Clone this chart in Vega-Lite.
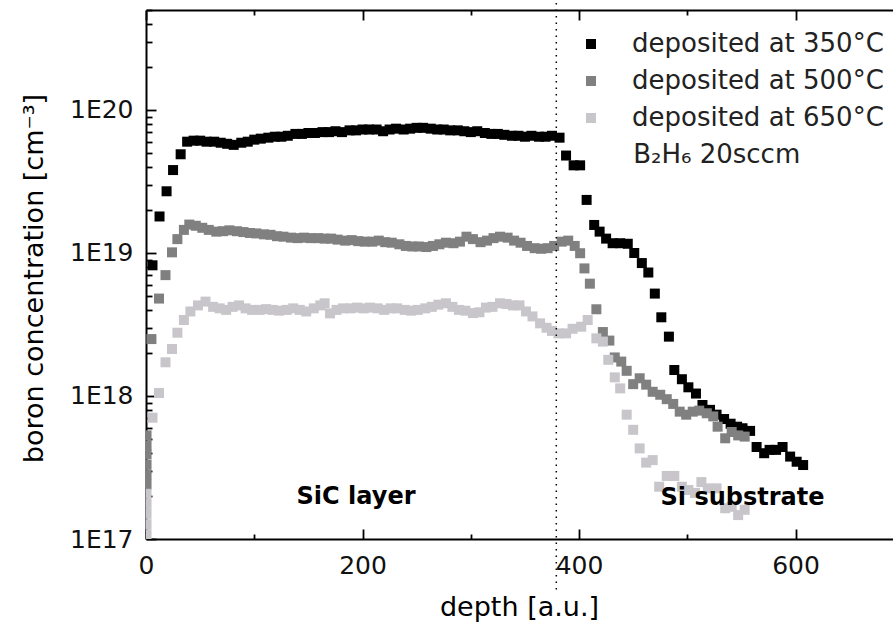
{
  "$schema": "https://vega.github.io/schema/vega-lite/v6.json",
  "width": 747,
  "height": 529,
  "autosize": {"type": "none"},
  "padding": {"left": 146, "top": 10, "right": 0, "bottom": 92},
  "background": "white",
  "config": {"view": {"stroke": null}, "font": "DejaVu Sans"},
  "datasets": {
    "pts": [
      {"series": "deposited at 350°C", "depth": 6, "conc": 8.2e18},
      {"series": "deposited at 350°C", "depth": 12.5, "conc": 1.8e19},
      {"series": "deposited at 350°C", "depth": 19, "conc": 2.7e19},
      {"series": "deposited at 350°C", "depth": 25, "conc": 3.8e19},
      {"series": "deposited at 350°C", "depth": 32, "conc": 4.9e19},
      {"series": "deposited at 350°C", "depth": 38, "conc": 6.0e19},
      {"series": "deposited at 350°C", "depth": 44, "conc": 6.1e19},
      {"series": "deposited at 350°C", "depth": 50, "conc": 6.1e19},
      {"series": "deposited at 350°C", "depth": 56, "conc": 6.0e19},
      {"series": "deposited at 350°C", "depth": 63, "conc": 6.0e19},
      {"series": "deposited at 350°C", "depth": 69, "conc": 5.9e19},
      {"series": "deposited at 350°C", "depth": 75, "conc": 5.8e19},
      {"series": "deposited at 350°C", "depth": 81, "conc": 5.7e19},
      {"series": "deposited at 350°C", "depth": 88, "conc": 5.9e19},
      {"series": "deposited at 350°C", "depth": 94, "conc": 6.0e19},
      {"series": "deposited at 350°C", "depth": 100, "conc": 6.2e19},
      {"series": "deposited at 350°C", "depth": 106, "conc": 6.3e19},
      {"series": "deposited at 350°C", "depth": 113, "conc": 6.4e19},
      {"series": "deposited at 350°C", "depth": 119, "conc": 6.5e19},
      {"series": "deposited at 350°C", "depth": 125, "conc": 6.5e19},
      {"series": "deposited at 350°C", "depth": 131, "conc": 6.6e19},
      {"series": "deposited at 350°C", "depth": 138, "conc": 6.8e19},
      {"series": "deposited at 350°C", "depth": 144, "conc": 6.8e19},
      {"series": "deposited at 350°C", "depth": 150, "conc": 6.9e19},
      {"series": "deposited at 350°C", "depth": 156, "conc": 6.9e19},
      {"series": "deposited at 350°C", "depth": 163, "conc": 7.0e19},
      {"series": "deposited at 350°C", "depth": 169, "conc": 7.0e19},
      {"series": "deposited at 350°C", "depth": 175, "conc": 7.1e19},
      {"series": "deposited at 350°C", "depth": 181, "conc": 7.0e19},
      {"series": "deposited at 350°C", "depth": 188, "conc": 7.2e19},
      {"series": "deposited at 350°C", "depth": 194, "conc": 7.2e19},
      {"series": "deposited at 350°C", "depth": 200, "conc": 7.3e19},
      {"series": "deposited at 350°C", "depth": 206, "conc": 7.3e19},
      {"series": "deposited at 350°C", "depth": 213, "conc": 7.3e19},
      {"series": "deposited at 350°C", "depth": 219, "conc": 7.1e19},
      {"series": "deposited at 350°C", "depth": 225, "conc": 7.3e19},
      {"series": "deposited at 350°C", "depth": 231, "conc": 7.4e19},
      {"series": "deposited at 350°C", "depth": 238, "conc": 7.3e19},
      {"series": "deposited at 350°C", "depth": 244, "conc": 7.4e19},
      {"series": "deposited at 350°C", "depth": 250, "conc": 7.5e19},
      {"series": "deposited at 350°C", "depth": 256, "conc": 7.5e19},
      {"series": "deposited at 350°C", "depth": 263, "conc": 7.4e19},
      {"series": "deposited at 350°C", "depth": 269, "conc": 7.3e19},
      {"series": "deposited at 350°C", "depth": 275, "conc": 7.3e19},
      {"series": "deposited at 350°C", "depth": 281, "conc": 7.2e19},
      {"series": "deposited at 350°C", "depth": 288, "conc": 7.2e19},
      {"series": "deposited at 350°C", "depth": 294, "conc": 7.1e19},
      {"series": "deposited at 350°C", "depth": 300, "conc": 7.0e19},
      {"series": "deposited at 350°C", "depth": 306, "conc": 7.1e19},
      {"series": "deposited at 350°C", "depth": 313, "conc": 6.9e19},
      {"series": "deposited at 350°C", "depth": 319, "conc": 6.8e19},
      {"series": "deposited at 350°C", "depth": 325, "conc": 6.8e19},
      {"series": "deposited at 350°C", "depth": 331, "conc": 6.7e19},
      {"series": "deposited at 350°C", "depth": 338, "conc": 6.6e19},
      {"series": "deposited at 350°C", "depth": 344, "conc": 6.6e19},
      {"series": "deposited at 350°C", "depth": 350, "conc": 6.5e19},
      {"series": "deposited at 350°C", "depth": 356, "conc": 6.6e19},
      {"series": "deposited at 350°C", "depth": 363, "conc": 6.5e19},
      {"series": "deposited at 350°C", "depth": 369, "conc": 6.5e19},
      {"series": "deposited at 350°C", "depth": 375, "conc": 6.6e19},
      {"series": "deposited at 350°C", "depth": 382, "conc": 6.4e19},
      {"series": "deposited at 350°C", "depth": 388, "conc": 4.8e19},
      {"series": "deposited at 350°C", "depth": 395, "conc": 4.1e19},
      {"series": "deposited at 350°C", "depth": 401, "conc": 4.1e19},
      {"series": "deposited at 350°C", "depth": 407, "conc": 2.35e19},
      {"series": "deposited at 350°C", "depth": 414, "conc": 1.57e19},
      {"series": "deposited at 350°C", "depth": 419, "conc": 1.41e19},
      {"series": "deposited at 350°C", "depth": 425, "conc": 1.26e19},
      {"series": "deposited at 350°C", "depth": 431, "conc": 1.17e19},
      {"series": "deposited at 350°C", "depth": 438, "conc": 1.17e19},
      {"series": "deposited at 350°C", "depth": 445, "conc": 1.16e19},
      {"series": "deposited at 350°C", "depth": 451, "conc": 1.0e19},
      {"series": "deposited at 350°C", "depth": 458, "conc": 8.5e18},
      {"series": "deposited at 350°C", "depth": 464, "conc": 7.3e18},
      {"series": "deposited at 350°C", "depth": 470, "conc": 5.2e18},
      {"series": "deposited at 350°C", "depth": 476, "conc": 3.55e18},
      {"series": "deposited at 350°C", "depth": 483, "conc": 2.6e18},
      {"series": "deposited at 350°C", "depth": 488, "conc": 1.52e18},
      {"series": "deposited at 350°C", "depth": 495, "conc": 1.31e18},
      {"series": "deposited at 350°C", "depth": 501, "conc": 1.15e18},
      {"series": "deposited at 350°C", "depth": 508, "conc": 1.04e18},
      {"series": "deposited at 350°C", "depth": 514, "conc": 8.65e17},
      {"series": "deposited at 350°C", "depth": 521, "conc": 8.0e17},
      {"series": "deposited at 350°C", "depth": 527, "conc": 7.4e17},
      {"series": "deposited at 350°C", "depth": 534, "conc": 6.9e17},
      {"series": "deposited at 350°C", "depth": 540, "conc": 6.4e17},
      {"series": "deposited at 350°C", "depth": 546, "conc": 6.1e17},
      {"series": "deposited at 350°C", "depth": 551, "conc": 5.95e17},
      {"series": "deposited at 350°C", "depth": 558, "conc": 5.7e17},
      {"series": "deposited at 350°C", "depth": 564, "conc": 4.4e17},
      {"series": "deposited at 350°C", "depth": 571, "conc": 3.98e17},
      {"series": "deposited at 350°C", "depth": 576, "conc": 4.2e17},
      {"series": "deposited at 350°C", "depth": 582, "conc": 4.2e17},
      {"series": "deposited at 350°C", "depth": 588, "conc": 4.4e17},
      {"series": "deposited at 350°C", "depth": 595, "conc": 3.77e17},
      {"series": "deposited at 350°C", "depth": 601, "conc": 3.47e17},
      {"series": "deposited at 350°C", "depth": 607, "conc": 3.29e17},

      {"series": "deposited at 500°C", "depth": 0.5, "conc": 5.3e17},
      {"series": "deposited at 500°C", "depth": 0.5, "conc": 4.5e17},
      {"series": "deposited at 500°C", "depth": 0.5, "conc": 3.9e17},
      {"series": "deposited at 500°C", "depth": 0.5, "conc": 3.3e17},
      {"series": "deposited at 500°C", "depth": 0.5, "conc": 2.8e17},
      {"series": "deposited at 500°C", "depth": 0.5, "conc": 2.4e17},
      {"series": "deposited at 500°C", "depth": 5, "conc": 2.5e18},
      {"series": "deposited at 500°C", "depth": 12, "conc": 4.8e18},
      {"series": "deposited at 500°C", "depth": 18, "conc": 7.0e18},
      {"series": "deposited at 500°C", "depth": 24, "conc": 1.01e19},
      {"series": "deposited at 500°C", "depth": 29, "conc": 1.25e19},
      {"series": "deposited at 500°C", "depth": 35, "conc": 1.45e19},
      {"series": "deposited at 500°C", "depth": 40, "conc": 1.58e19},
      {"series": "deposited at 500°C", "depth": 46, "conc": 1.55e19},
      {"series": "deposited at 500°C", "depth": 52, "conc": 1.5e19},
      {"series": "deposited at 500°C", "depth": 58, "conc": 1.45e19},
      {"series": "deposited at 500°C", "depth": 65, "conc": 1.41e19},
      {"series": "deposited at 500°C", "depth": 71, "conc": 1.42e19},
      {"series": "deposited at 500°C", "depth": 77, "conc": 1.44e19},
      {"series": "deposited at 500°C", "depth": 84, "conc": 1.42e19},
      {"series": "deposited at 500°C", "depth": 90, "conc": 1.4e19},
      {"series": "deposited at 500°C", "depth": 96, "conc": 1.38e19},
      {"series": "deposited at 500°C", "depth": 102, "conc": 1.37e19},
      {"series": "deposited at 500°C", "depth": 109, "conc": 1.35e19},
      {"series": "deposited at 500°C", "depth": 115, "conc": 1.34e19},
      {"series": "deposited at 500°C", "depth": 121, "conc": 1.31e19},
      {"series": "deposited at 500°C", "depth": 127, "conc": 1.3e19},
      {"series": "deposited at 500°C", "depth": 134, "conc": 1.28e19},
      {"series": "deposited at 500°C", "depth": 140, "conc": 1.27e19},
      {"series": "deposited at 500°C", "depth": 146, "conc": 1.28e19},
      {"series": "deposited at 500°C", "depth": 152, "conc": 1.27e19},
      {"series": "deposited at 500°C", "depth": 159, "conc": 1.27e19},
      {"series": "deposited at 500°C", "depth": 165, "conc": 1.26e19},
      {"series": "deposited at 500°C", "depth": 171, "conc": 1.26e19},
      {"series": "deposited at 500°C", "depth": 177, "conc": 1.24e19},
      {"series": "deposited at 500°C", "depth": 184, "conc": 1.22e19},
      {"series": "deposited at 500°C", "depth": 190, "conc": 1.23e19},
      {"series": "deposited at 500°C", "depth": 196, "conc": 1.21e19},
      {"series": "deposited at 500°C", "depth": 202, "conc": 1.2e19},
      {"series": "deposited at 500°C", "depth": 209, "conc": 1.2e19},
      {"series": "deposited at 500°C", "depth": 215, "conc": 1.22e19},
      {"series": "deposited at 500°C", "depth": 221, "conc": 1.19e19},
      {"series": "deposited at 500°C", "depth": 227, "conc": 1.18e19},
      {"series": "deposited at 500°C", "depth": 234, "conc": 1.15e19},
      {"series": "deposited at 500°C", "depth": 240, "conc": 1.12e19},
      {"series": "deposited at 500°C", "depth": 246, "conc": 1.11e19},
      {"series": "deposited at 500°C", "depth": 252, "conc": 1.11e19},
      {"series": "deposited at 500°C", "depth": 259, "conc": 1.1e19},
      {"series": "deposited at 500°C", "depth": 265, "conc": 1.12e19},
      {"series": "deposited at 500°C", "depth": 271, "conc": 1.15e19},
      {"series": "deposited at 500°C", "depth": 277, "conc": 1.18e19},
      {"series": "deposited at 500°C", "depth": 284, "conc": 1.17e19},
      {"series": "deposited at 500°C", "depth": 290, "conc": 1.2e19},
      {"series": "deposited at 500°C", "depth": 296, "conc": 1.3e19},
      {"series": "deposited at 500°C", "depth": 302, "conc": 1.25e19},
      {"series": "deposited at 500°C", "depth": 309, "conc": 1.19e19},
      {"series": "deposited at 500°C", "depth": 315, "conc": 1.22e19},
      {"series": "deposited at 500°C", "depth": 321, "conc": 1.27e19},
      {"series": "deposited at 500°C", "depth": 327, "conc": 1.3e19},
      {"series": "deposited at 500°C", "depth": 334, "conc": 1.28e19},
      {"series": "deposited at 500°C", "depth": 340, "conc": 1.22e19},
      {"series": "deposited at 500°C", "depth": 346, "conc": 1.18e19},
      {"series": "deposited at 500°C", "depth": 352, "conc": 1.12e19},
      {"series": "deposited at 500°C", "depth": 359, "conc": 1.08e19},
      {"series": "deposited at 500°C", "depth": 365, "conc": 1.07e19},
      {"series": "deposited at 500°C", "depth": 371, "conc": 1.08e19},
      {"series": "deposited at 500°C", "depth": 377, "conc": 1.12e19},
      {"series": "deposited at 500°C", "depth": 384, "conc": 1.2e19},
      {"series": "deposited at 500°C", "depth": 390, "conc": 1.22e19},
      {"series": "deposited at 500°C", "depth": 396, "conc": 1.12e19},
      {"series": "deposited at 500°C", "depth": 401, "conc": 9.96e18},
      {"series": "deposited at 500°C", "depth": 405, "conc": 7.8e18},
      {"series": "deposited at 500°C", "depth": 410, "conc": 6.1e18},
      {"series": "deposited at 500°C", "depth": 416, "conc": 4.04e18},
      {"series": "deposited at 500°C", "depth": 422, "conc": 2.8e18},
      {"series": "deposited at 500°C", "depth": 428, "conc": 2.44e18},
      {"series": "deposited at 500°C", "depth": 433, "conc": 1.86e18},
      {"series": "deposited at 500°C", "depth": 439, "conc": 1.74e18},
      {"series": "deposited at 500°C", "depth": 444, "conc": 1.5e18},
      {"series": "deposited at 500°C", "depth": 450, "conc": 1.21e18},
      {"series": "deposited at 500°C", "depth": 456, "conc": 1.33e18},
      {"series": "deposited at 500°C", "depth": 462, "conc": 1.2e18},
      {"series": "deposited at 500°C", "depth": 468, "conc": 1.07e18},
      {"series": "deposited at 500°C", "depth": 475, "conc": 1.02e18},
      {"series": "deposited at 500°C", "depth": 481, "conc": 9.5e17},
      {"series": "deposited at 500°C", "depth": 487, "conc": 8.8e17},
      {"series": "deposited at 500°C", "depth": 493, "conc": 7.77e17},
      {"series": "deposited at 500°C", "depth": 499, "conc": 7.4e17},
      {"series": "deposited at 500°C", "depth": 505, "conc": 7.77e17},
      {"series": "deposited at 500°C", "depth": 511, "conc": 7.9e17},
      {"series": "deposited at 500°C", "depth": 518, "conc": 7.57e17},
      {"series": "deposited at 500°C", "depth": 524, "conc": 7.2e17},
      {"series": "deposited at 500°C", "depth": 528, "conc": 6.1e17},
      {"series": "deposited at 500°C", "depth": 535, "conc": 5.06e17},
      {"series": "deposited at 500°C", "depth": 541, "conc": 5.6e17},
      {"series": "deposited at 500°C", "depth": 547, "conc": 5.3e17},
      {"series": "deposited at 500°C", "depth": 553, "conc": 5.2e17},

      {"series": "deposited at 650°C", "depth": 0.5, "conc": 2.07e17},
      {"series": "deposited at 650°C", "depth": 0.5, "conc": 1.76e17},
      {"series": "deposited at 650°C", "depth": 0.5, "conc": 1.5e17},
      {"series": "deposited at 650°C", "depth": 0.5, "conc": 1.27e17},
      {"series": "deposited at 650°C", "depth": 0.5, "conc": 1.08e17},
      {"series": "deposited at 650°C", "depth": 6, "conc": 7.05e17},
      {"series": "deposited at 650°C", "depth": 12, "conc": 1.05e18},
      {"series": "deposited at 650°C", "depth": 18, "conc": 1.72e18},
      {"series": "deposited at 650°C", "depth": 24, "conc": 2.13e18},
      {"series": "deposited at 650°C", "depth": 29, "conc": 2.77e18},
      {"series": "deposited at 650°C", "depth": 35, "conc": 3.4e18},
      {"series": "deposited at 650°C", "depth": 41, "conc": 3.9e18},
      {"series": "deposited at 650°C", "depth": 48, "conc": 4.3e18},
      {"series": "deposited at 650°C", "depth": 55, "conc": 4.57e18},
      {"series": "deposited at 650°C", "depth": 62, "conc": 4.2e18},
      {"series": "deposited at 650°C", "depth": 68, "conc": 4.1e18},
      {"series": "deposited at 650°C", "depth": 74, "conc": 4.0e18},
      {"series": "deposited at 650°C", "depth": 80, "conc": 4.2e18},
      {"series": "deposited at 650°C", "depth": 86, "conc": 4.3e18},
      {"series": "deposited at 650°C", "depth": 92, "conc": 4.1e18},
      {"series": "deposited at 650°C", "depth": 98, "conc": 4.0e18},
      {"series": "deposited at 650°C", "depth": 105, "conc": 4.0e18},
      {"series": "deposited at 650°C", "depth": 111, "conc": 4.05e18},
      {"series": "deposited at 650°C", "depth": 117, "conc": 4.0e18},
      {"series": "deposited at 650°C", "depth": 123, "conc": 3.95e18},
      {"series": "deposited at 650°C", "depth": 130, "conc": 4.0e18},
      {"series": "deposited at 650°C", "depth": 136, "conc": 4.1e18},
      {"series": "deposited at 650°C", "depth": 142, "conc": 4.0e18},
      {"series": "deposited at 650°C", "depth": 148, "conc": 3.9e18},
      {"series": "deposited at 650°C", "depth": 155, "conc": 4.1e18},
      {"series": "deposited at 650°C", "depth": 161, "conc": 4.3e18},
      {"series": "deposited at 650°C", "depth": 165, "conc": 4.45e18},
      {"series": "deposited at 650°C", "depth": 170, "conc": 3.78e18},
      {"series": "deposited at 650°C", "depth": 176, "conc": 4.0e18},
      {"series": "deposited at 650°C", "depth": 182, "conc": 4.1e18},
      {"series": "deposited at 650°C", "depth": 189, "conc": 4.1e18},
      {"series": "deposited at 650°C", "depth": 195, "conc": 4.15e18},
      {"series": "deposited at 650°C", "depth": 201, "conc": 4.1e18},
      {"series": "deposited at 650°C", "depth": 207, "conc": 4.15e18},
      {"series": "deposited at 650°C", "depth": 214, "conc": 4.1e18},
      {"series": "deposited at 650°C", "depth": 220, "conc": 4.0e18},
      {"series": "deposited at 650°C", "depth": 226, "conc": 4.1e18},
      {"series": "deposited at 650°C", "depth": 232, "conc": 4.1e18},
      {"series": "deposited at 650°C", "depth": 239, "conc": 4.0e18},
      {"series": "deposited at 650°C", "depth": 245, "conc": 3.95e18},
      {"series": "deposited at 650°C", "depth": 251, "conc": 4.0e18},
      {"series": "deposited at 650°C", "depth": 258, "conc": 4.1e18},
      {"series": "deposited at 650°C", "depth": 264, "conc": 4.2e18},
      {"series": "deposited at 650°C", "depth": 270, "conc": 4.35e18},
      {"series": "deposited at 650°C", "depth": 277, "conc": 4.45e18},
      {"series": "deposited at 650°C", "depth": 283, "conc": 4.2e18},
      {"series": "deposited at 650°C", "depth": 289, "conc": 4.0e18},
      {"series": "deposited at 650°C", "depth": 295, "conc": 3.95e18},
      {"series": "deposited at 650°C", "depth": 302, "conc": 3.8e18},
      {"series": "deposited at 650°C", "depth": 308, "conc": 3.85e18},
      {"series": "deposited at 650°C", "depth": 314, "conc": 4.15e18},
      {"series": "deposited at 650°C", "depth": 320, "conc": 4.2e18},
      {"series": "deposited at 650°C", "depth": 327, "conc": 4.45e18},
      {"series": "deposited at 650°C", "depth": 333, "conc": 4.4e18},
      {"series": "deposited at 650°C", "depth": 339, "conc": 4.3e18},
      {"series": "deposited at 650°C", "depth": 345, "conc": 4.3e18},
      {"series": "deposited at 650°C", "depth": 351, "conc": 3.9e18},
      {"series": "deposited at 650°C", "depth": 357, "conc": 3.6e18},
      {"series": "deposited at 650°C", "depth": 364, "conc": 3.22e18},
      {"series": "deposited at 650°C", "depth": 370, "conc": 3.0e18},
      {"series": "deposited at 650°C", "depth": 375, "conc": 2.85e18},
      {"series": "deposited at 650°C", "depth": 381, "conc": 2.74e18},
      {"series": "deposited at 650°C", "depth": 388, "conc": 2.74e18},
      {"series": "deposited at 650°C", "depth": 394, "conc": 2.95e18},
      {"series": "deposited at 650°C", "depth": 402, "conc": 3.05e18},
      {"series": "deposited at 650°C", "depth": 408, "conc": 3.4e18},
      {"series": "deposited at 650°C", "depth": 416, "conc": 2.53e18},
      {"series": "deposited at 650°C", "depth": 422, "conc": 2.4e18},
      {"series": "deposited at 650°C", "depth": 427, "conc": 1.79e18},
      {"series": "deposited at 650°C", "depth": 433, "conc": 1.35e18},
      {"series": "deposited at 650°C", "depth": 438, "conc": 1.13e18},
      {"series": "deposited at 650°C", "depth": 444, "conc": 7.4e17},
      {"series": "deposited at 650°C", "depth": 450, "conc": 5.8e17},
      {"series": "deposited at 650°C", "depth": 456, "conc": 4.3e17},
      {"series": "deposited at 650°C", "depth": 462, "conc": 3.42e17},
      {"series": "deposited at 650°C", "depth": 468, "conc": 3.56e17},
      {"series": "deposited at 650°C", "depth": 474, "conc": 2.32e17},
      {"series": "deposited at 650°C", "depth": 481, "conc": 2.76e17},
      {"series": "deposited at 650°C", "depth": 488, "conc": 2.76e17},
      {"series": "deposited at 650°C", "depth": 495, "conc": 2.32e17},
      {"series": "deposited at 650°C", "depth": 501, "conc": 2.2e17},
      {"series": "deposited at 650°C", "depth": 507, "conc": 2.1e17},
      {"series": "deposited at 650°C", "depth": 513, "conc": 2.5e17},
      {"series": "deposited at 650°C", "depth": 519, "conc": 2.26e17},
      {"series": "deposited at 650°C", "depth": 527, "conc": 2.26e17},
      {"series": "deposited at 650°C", "depth": 535, "conc": 1.64e17},
      {"series": "deposited at 650°C", "depth": 541, "conc": 1.68e17},
      {"series": "deposited at 650°C", "depth": 547, "conc": 1.47e17},
      {"series": "deposited at 650°C", "depth": 553, "conc": 1.6e17}
    ],
    "boundary": [{"depth": 379, "top": 5.6e20, "bottom": 4.1e16}],
    "regions": [
      {"label": "SiC layer", "depth": 194, "conc": 1.98e17},
      {"label": "Si substrate", "depth": 551, "conc": 1.93e17}
    ],
    "note": [{"label": "B₂H₆ 20sccm", "depth": 450, "conc": 4.84e19}]
  },
  "layer": [
    {
      "data": {"name": "pts"},
      "mark": {"type": "point", "shape": "square", "filled": true, "size": 100, "opacity": 1, "clip": true},
      "encoding": {
        "x": {
          "field": "depth", "type": "quantitative",
          "scale": {"domain": [0, 690], "nice": false, "zero": false},
          "axis": {
            "orient": "bottom",
            "values": [0, 100, 200, 300, 400, 500, 600],
            "labelExpr": "datum.value % 200 === 0 ? datum.label : ''",
            "format": "d",
            "grid": false,
            "labelFlush": false,
            "labelOverlap": false,
            "labelFont": "DejaVu Sans", "labelFontSize": 25, "labelColor": "#111",
            "labelPadding": 24,
            "tickSize": {"condition": {"test": "datum.value % 200 === 0", "value": -10}, "value": -5},
            "tickWidth": 1.8, "tickColor": "#000",
            "domainColor": "#000", "domainWidth": 2,
            "title": "depth [a.u.]",
            "titleFont": "DejaVu Sans", "titleFontSize": 27, "titleFontWeight": "normal", "titleColor": "#000",
            "titleX": 373, "titleY": 68, "titleBaseline": "middle"
          }
        },
        "y": {
          "field": "conc", "type": "quantitative",
          "scale": {"type": "log", "domain": [1e17, 5e20], "nice": false},
          "axis": {
            "orient": "left",
            "values": [1e17, 2e17, 3e17, 4e17, 5e17, 6e17, 7e17, 8e17, 9e17, 1e18, 2e18, 3e18, 4e18, 5e18, 6e18, 7e18, 8e18, 9e18, 1e19, 2e19, 3e19, 4e19, 5e19, 6e19, 7e19, 8e19, 9e19, 1e20, 2e20, 3e20, 4e20, 5e20],
            "labelExpr": "abs(log(datum.value)/LN10 - round(log(datum.value)/LN10)) < 0.001 ? '1E' + round(log(datum.value)/LN10) : ''",
            "grid": false,
            "labelFlush": false,
            "labelOverlap": false,
            "labelFont": "DejaVu Sans", "labelFontSize": 25, "labelColor": "#111",
            "labelPadding": 23,
            "tickSize": {"condition": {"test": "abs(log(datum.value)/LN10 - round(log(datum.value)/LN10)) < 0.001", "value": -10}, "value": -6},
            "tickWidth": 1.8, "tickColor": "#000",
            "domainColor": "#000", "domainWidth": 2,
            "title": "boron concentration [cm⁻³]",
            "titleFont": "DejaVu Sans", "titleFontSize": 27, "titleFontWeight": "normal", "titleColor": "#000",
            "titleX": -112, "titleY": 268, "titleBaseline": "middle", "titleAngle": -90
          }
        },
        "color": {
          "field": "series", "type": "nominal",
          "scale": {"domain": ["deposited at 350°C", "deposited at 500°C", "deposited at 650°C"], "range": ["#000000", "#808080", "#c8c6ca"]},
          "legend": {
            "orient": "none", "legendX": 432, "legendY": 21,
            "title": null, "padding": 0,
            "symbolType": "square", "symbolSize": 100, "symbolStrokeWidth": 0,
            "labelFont": "DejaVu Sans", "labelFontSize": 26, "labelColor": "#222", "labelLimit": 400,
            "labelOffset": 28, "rowPadding": 11
          }
        }
      }
    },
    {
      "data": {"name": "boundary"},
      "mark": {"type": "rule", "color": "#000", "strokeWidth": 1.5, "strokeDash": [1.5, 5], "clip": false},
      "encoding": {
        "x": {
          "field": "depth", "type": "quantitative",
          "axis": {
            "orient": "top",
            "values": [0, 100, 200, 300, 400, 500, 600],
            "labels": false,
            "grid": false,
            "title": null,
            "tickSize": {"condition": {"test": "datum.value % 200 === 0", "value": -10}, "value": -5},
            "tickWidth": 1.8, "tickColor": "#000",
            "domainColor": "#000", "domainWidth": 2
          }
        },
        "y": {"field": "top", "type": "quantitative", "axis": null},
        "y2": {"field": "bottom"}
      }
    },
    {
      "data": {"name": "regions"},
      "mark": {"type": "text", "font": "DejaVu Sans", "fontSize": 24, "fontWeight": "bold", "color": "#000", "align": "center", "baseline": "middle"},
      "encoding": {
        "x": {"field": "depth", "type": "quantitative", "axis": null},
        "y": {"field": "conc", "type": "quantitative", "axis": null},
        "text": {"field": "label"}
      }
    },
    {
      "data": {"name": "note"},
      "mark": {"type": "text", "font": "DejaVu Sans", "fontSize": 26, "color": "#222", "align": "left", "baseline": "middle"},
      "encoding": {
        "x": {"field": "depth", "type": "quantitative", "axis": null},
        "y": {"field": "conc", "type": "quantitative", "axis": null},
        "text": {"field": "label"}
      }
    }
  ],
  "resolve": {"axis": {"x": "independent", "y": "independent"}}
}
